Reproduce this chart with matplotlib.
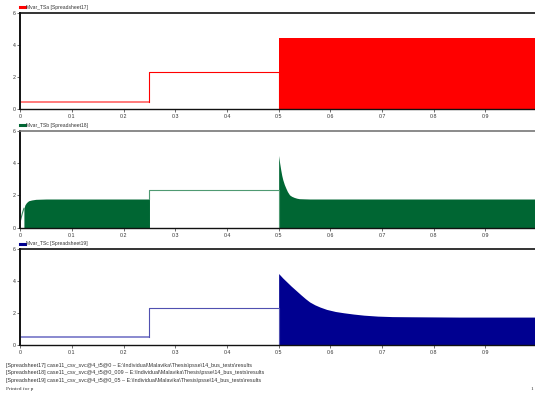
import matplotlib
matplotlib.use("Agg")
import matplotlib.pyplot as plt
from matplotlib.lines import Line2D

# ---- data ----
step_t = [0.0, 0.25, 0.25, 0.5, 0.5]

# Panel A (Mvar_TSa)
a_levels = [0.47, 0.47, 2.31, 2.31, 0.0]
a_env_t = [0.5, 1.0]
a_env_v = [4.46, 4.46]

# Panel B (Mvar_TSb)
b_early_t = [0.0, 0.002, 0.004, 0.007, 0.009, 0.012, 0.016, 0.022, 0.03, 0.05, 0.25]
b_early_v = [0.4, 0.65, 0.9, 1.2, 1.42, 1.56, 1.67, 1.72, 1.76, 1.78, 1.78]
b_fill_start = 0.007
b_levels = [1.78, 1.78, 2.31, 2.31, 0.0]
b_env_t = [0.5, 0.502, 0.504, 0.506, 0.508, 0.511, 0.514, 0.517, 0.521, 0.525, 0.53, 0.535, 0.54, 0.55, 0.56, 1.0]
b_env_v = [4.48, 4.0, 3.6, 3.25, 2.98, 2.68, 2.45, 2.24, 2.04, 1.95, 1.88, 1.83, 1.8, 1.79, 1.78, 1.78]

# Panel C (Mvar_TSc)
c_levels = [0.52, 0.52, 2.33, 2.33, 0.0]
c_env_t = [0.5, 0.508, 0.516, 0.524, 0.533, 0.543, 0.552, 0.56, 0.57, 0.58, 0.593, 0.61,
           0.626, 0.645, 0.665, 0.692, 0.72, 0.757, 0.85, 1.0]
c_env_v = [4.48, 4.2, 3.95, 3.7, 3.44, 3.15, 2.9, 2.7, 2.52, 2.38, 2.23, 2.1,
           2.02, 1.94, 1.87, 1.81, 1.78, 1.77, 1.75, 1.75]

legend_labels = ["Mvar_TSa [Spreadsheet17]", "Mvar_TSb [Spreadsheet18]", "Mvar_TSc [Spreadsheet19]"]
xticks = [0, 0.1, 0.2, 0.3, 0.4, 0.5, 0.6, 0.7, 0.8, 0.9]
xtick_labels = ["0", "0.1", "0.2", "0.3", "0.4", "0.5", "0.6", "0.7", "0.8", "0.9"]
yticks = [0, 2, 4, 6]
footer_lines = [
    "[Spreadsheet17] case11_csv_svc@4_t5@0 \u2013 E:\\Individual\\Malavika\\Thesis\\psse\\14_bus_tests\\results",
    "[Spreadsheet18] case11_csv_svc@4_t5@0_009 \u2013 E:\\Individual\\Malavika\\Thesis\\psse\\14_bus_tests\\results",
    "[Spreadsheet19] case11_csv_svc@4_t5@0_05 \u2013 E:\\Individual\\Malavika\\Thesis\\psse\\14_bus_tests\\results",
]

RED = "#ff0000"
GREEN = "#006633"
BLUE = "#000090"

W, H = 535, 395
fig = plt.figure(figsize=(W / 100, H / 100), dpi=100)
plt.rcParams["font.family"] = ["Liberation Sans", "DejaVu Sans"]

def make_ax(top_px, bot_px):
    left = 20.3 / W
    right = 537.0 / W
    ax = fig.add_axes([left, 1 - bot_px / H, right - left, (bot_px - top_px) / H])
    ax.set_xlim(0, 1.0)
    ax.set_ylim(0, 6)
    ax.set_xticks(xticks)
    ax.set_xticklabels(xtick_labels)
    ax.set_yticks(yticks)
    ax.tick_params(labelsize=3.8, length=2, width=0.5, pad=1.5, colors="#333333")
    ax.spines["right"].set_visible(False)
    ax.spines["left"].set_linewidth(1.4)
    ax.spines["bottom"].set_linewidth(1.0)
    ax.spines["top"].set_linewidth(1.2)
    for s in ax.spines.values():
        s.set_color("#111111")
    return ax

axA = make_ax(13.3, 109)
axB = make_ax(131, 227.7)
axC = make_ax(249.3, 345)

# Panel A
axA.plot(step_t[:2], a_levels[:2], color="#ff7070", lw=1.3)
axA.plot(step_t[1:], a_levels[1:], color=RED, lw=0.8)
axA.fill_between(a_env_t, 0, a_env_v, color=RED, lw=0)

# Panel B
pre_t = [t for t in b_early_t if t <= b_fill_start]
pre_v = [v for t, v in zip(b_early_t, b_early_v) if t <= b_fill_start]
axB.plot(pre_t, pre_v, color="#3a8a60", lw=0.8)
fb_t = [t for t in b_early_t if t >= b_fill_start]
fb_v = [v for t, v in zip(b_early_t, b_early_v) if t >= b_fill_start]
axB.fill_between(fb_t, 0, fb_v, color=GREEN, lw=0)
axB.plot(step_t[1:], b_levels[1:], color="#4f9a72", lw=0.8)
axB.fill_between(b_env_t, 0, b_env_v, color=GREEN, lw=0)
axB.spines["top"].set_color("#777777")

# Panel C
axC.plot(step_t[:2], c_levels[:2], color="#8080cc", lw=1.3)
axC.plot(step_t[1:], c_levels[1:], color="#5050b0", lw=0.8)
axC.fill_between(c_env_t, 0, c_env_v, color=BLUE, lw=0)

# legends
for lbl, col, ypx in zip(legend_labels, [RED, GREEN, BLUE], [7.3, 125, 244]):
    y = 1 - ypx / H
    fig.add_artist(Line2D([20 / W, 24.5 / W], [y, y], color=col, lw=2.2, transform=fig.transFigure))
    fig.text(26 / W, y, lbl, fontsize=3.6, va="center", ha="left", color="#333333")

# footer
for i, line in enumerate(footer_lines):
    fig.text(6 / W, 1 - (365.7 + 7.2 * i) / H, line, fontsize=3.9, va="center", ha="left", color="#333333")
fig.text(6 / W, 1 - 389.3 / H, "Printed for p", fontsize=3.9, va="center", ha="left",
         family=["Liberation Serif", "DejaVu Serif"], color="#333333")
fig.text(530 / W, 1 - 389.3 / H, "1", fontsize=3.9, va="center", ha="left",
         family=["Liberation Serif", "DejaVu Serif"], color="#333333")

fig.savefig("out.png", dpi=100)
